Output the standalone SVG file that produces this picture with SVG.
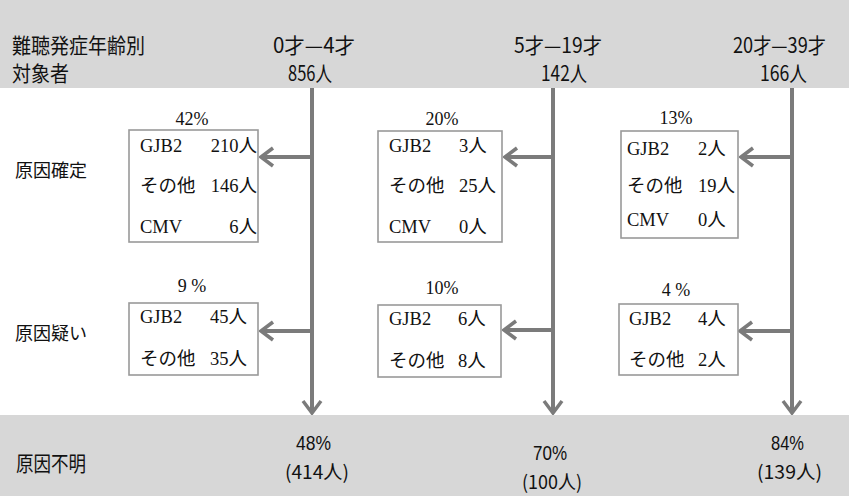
<svg xmlns="http://www.w3.org/2000/svg" width="849" height="496" viewBox="0 0 849 496">
<style>
.band{fill:#d7d7d7}
.hd{font-family:"Noto Sans CJK JP","Noto Sans",sans-serif;font-size:21px;fill:#111}
.bt{font-family:"Noto Sans CJK JP","Noto Sans",sans-serif;font-size:19px;fill:#111}
.bp{font-family:"Liberation Sans",Arial,sans-serif;font-size:20px;fill:#111}
.lbl{font-family:"Noto Sans CJK JP","Noto Sans",sans-serif;font-size:18px;fill:#111}
.bx{fill:#fff;stroke:#999;stroke-width:1.6}
.t{font-family:"Liberation Serif","Noto Sans CJK JP",serif;font-size:18.5px;fill:#111}
.pc{font-family:"Liberation Serif","Noto Sans CJK JP",serif;font-size:18px;fill:#111;text-anchor:middle}
.ar{stroke:#7b7b7b;stroke-width:4;fill:none;marker-end:url(#ah)}
</style>
<defs>
<marker id="ah" markerUnits="userSpaceOnUse" viewBox="-16 -11 18 22" markerWidth="18" markerHeight="22" refX="0" refY="0" orient="auto">
<path d="M-12,-9 L0,0 L-12,9" fill="none" stroke="#7b7b7b" stroke-width="3.5" stroke-linejoin="miter"/>
</marker>
</defs>
<rect class="band" x="0" y="0" width="849" height="88"/>
<rect class="band" x="0" y="415" width="849" height="81"/>

<g id="header">
<text class="hd" x="12" y="53" textLength="133" lengthAdjust="spacingAndGlyphs">難聴発症年齢別</text>
<text class="hd" x="12" y="81" textLength="57" lengthAdjust="spacingAndGlyphs">対象者</text>
</g>
<g id="age1">
<text class="hd" x="273" y="53" textLength="82" lengthAdjust="spacingAndGlyphs">0才—4才</text>
<text class="hd" x="288" y="81" textLength="44" lengthAdjust="spacingAndGlyphs">856人</text>
</g>
<g id="age2">
<text class="hd" x="514" y="53" textLength="88" lengthAdjust="spacingAndGlyphs">5才—19才</text>
<text class="hd" x="541" y="81" textLength="46" lengthAdjust="spacingAndGlyphs">142人</text>
</g>
<g id="age3">
<text class="hd" x="733" y="53" textLength="93" lengthAdjust="spacingAndGlyphs">20才—39才</text>
<text class="hd" x="760" y="81" textLength="47" lengthAdjust="spacingAndGlyphs">166人</text>
</g>

<g id="row-labels">
<text class="lbl" x="15" y="177">原因確定</text>
<text class="lbl" x="15" y="340">原因疑い</text>
<text class="hd" x="16" y="471" textLength="70" lengthAdjust="spacingAndGlyphs">原因不明</text>
</g>

<g id="connectors">
<path class="ar" d="M312,88 V413"/>
<path class="ar" d="M553,88 V413"/>
<path class="ar" d="M792,88 V413"/>
<path class="ar" d="M312,157 H261"/>
<path class="ar" d="M553,157 H505"/>
<path class="ar" d="M792,157 H741"/>
<path class="ar" d="M312,331 H261"/>
<path class="ar" d="M553,330 H504"/>
<path class="ar" d="M792,331 H740"/>
</g>

<g id="box-c1-confirmed">
<text class="pc" x="192" y="125">42%</text>
<rect class="bx" x="129" y="130" width="129" height="112"/>
<text class="t" x="140" y="152">GJB2</text><text class="t" x="257" y="152" text-anchor="end">210人</text>
<text class="t" x="140" y="192">その他</text><text class="t" x="257" y="192" text-anchor="end">146人</text>
<text class="t" x="140" y="233">CMV</text><text class="t" x="257" y="233" text-anchor="end">6人</text>
</g>
<g id="box-c2-confirmed">
<text class="pc" x="442" y="125">20%</text>
<rect class="bx" x="378" y="131" width="124" height="111"/>
<text class="t" x="389" y="152">GJB2</text><text class="t" x="459" y="152">3人</text>
<text class="t" x="389" y="192">その他</text><text class="t" x="459" y="192">25人</text>
<text class="t" x="389" y="233">CMV</text><text class="t" x="459" y="233">0人</text>
</g>
<g id="box-c3-confirmed">
<text class="pc" x="676" y="124">13%</text>
<rect class="bx" x="621" y="131" width="117" height="107"/>
<text class="t" x="627" y="155">GJB2</text><text class="t" x="698" y="155">2人</text>
<text class="t" x="627" y="192">その他</text><text class="t" x="698" y="192">19人</text>
<text class="t" x="627" y="226">CMV</text><text class="t" x="698" y="226">0人</text>
</g>

<g id="box-c1-suspected">
<text class="pc" x="192" y="292">9 %</text>
<rect class="bx" x="129" y="303" width="129" height="72"/>
<text class="t" x="140" y="323">GJB2</text><text class="t" x="210" y="323">45人</text>
<text class="t" x="140" y="365">その他</text><text class="t" x="210" y="365">35人</text>
</g>
<g id="box-c2-suspected">
<text class="pc" x="442" y="294">10%</text>
<rect class="bx" x="378" y="305" width="123" height="72"/>
<text class="t" x="389" y="325">GJB2</text><text class="t" x="458" y="325">6人</text>
<text class="t" x="389" y="367">その他</text><text class="t" x="458" y="367">8人</text>
</g>
<g id="box-c3-suspected">
<text class="pc" x="676" y="296">4 %</text>
<rect class="bx" x="619" y="304" width="119" height="71"/>
<text class="t" x="629" y="325">GJB2</text><text class="t" x="698" y="325">4人</text>
<text class="t" x="629" y="366">その他</text><text class="t" x="698" y="366">2人</text>
</g>

<g id="unknown1">
<text class="bp" x="296" y="450" textLength="35" lengthAdjust="spacingAndGlyphs">48%</text>
<text class="bt" x="285" y="479" textLength="64" lengthAdjust="spacingAndGlyphs">(414人)</text>
</g>
<g id="unknown2">
<text class="bp" x="533" y="460" textLength="34" lengthAdjust="spacingAndGlyphs">70%</text>
<text class="bt" x="522" y="489" textLength="60" lengthAdjust="spacingAndGlyphs">(100人)</text>
</g>
<g id="unknown3">
<text class="bp" x="771" y="450" textLength="33" lengthAdjust="spacingAndGlyphs">84%</text>
<text class="bt" x="757" y="479" textLength="65" lengthAdjust="spacingAndGlyphs">(139人)</text>
</g>
</svg>
